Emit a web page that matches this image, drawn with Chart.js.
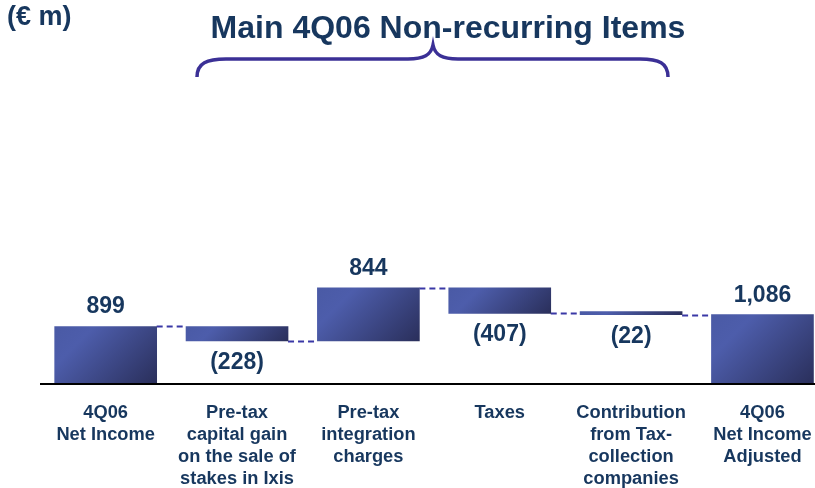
<!DOCTYPE html>
<html><head><meta charset="utf-8">
<script src="https://cdn.jsdelivr.net/npm/chart.js@4/dist/chart.umd.min.js"></script>
<style>html,body{margin:0;padding:0;background:#fff;overflow:hidden}#wrap{width:815px;height:488px;position:relative}</style>
</head><body><div id="wrap"><canvas id="c" width="815" height="488"></canvas></div>
<script>
// ---- data ----
const categories = [
  ["4Q06", "Net Income"],
  ["Pre-tax", "capital gain", "on the sale of", "stakes in Ixis"],
  ["Pre-tax", "integration", "charges"],
  ["Taxes"],
  ["Contribution", "from Tax-", "collection", "companies"],
  ["4Q06", "Net Income", "Adjusted"]
];
const values = [899, -228, 844, -407, -22, 1086];
const isTotal = [true, false, false, false, false, true];
const valueLabels = ["899", "(228)", "844", "(407)", "(22)", "1,086"];
const unitLabel = "(€ m)";
const titleText = "Main 4Q06 Non-recurring Items";

// floating bar ranges derived from the values (waterfall)
const floats = [];
let running = 0;
values.forEach((v, i) => {
  if (isTotal[i]) { floats.push([0, v]); running = v; }
  else { floats.push([running, running + v]); running += v; }
});

const TEXT = '#17375e';
const FONT = '"Liberation Sans", Arial, sans-serif';
const BAR_W = 102;

function barGradient(ctx) {
  const fallback = '#434f96';
  if (ctx.type !== 'data') return fallback;
  const chart = ctx.chart, xs = chart.scales.x, ys = chart.scales.y;
  if (!xs || !ys) return fallback;
  const i = ctx.dataIndex;
  const [a, b] = floats[i];
  const cx = xs.getPixelForValue(i);
  const t = ys.getPixelForValue(Math.max(a, b)), btm = ys.getPixelForValue(Math.min(a, b));
  if (![cx, t, btm].every(Number.isFinite)) return fallback;
  const l = cx - BAR_W / 2;
  const d = (BAR_W + (btm - t)) / 2;   // 45-degree gradient across the bar
  const g = chart.ctx.createLinearGradient(l, t, l + d, t + d);
  g.addColorStop(0, '#4a5aa5');
  g.addColorStop(0.25, '#4d5dab');
  g.addColorStop(1, '#2a2f5b');
  return g;
}

const decor = {
  id: 'decor',
  beforeDatasetsDraw(chart) {
    const c = chart.ctx, xs = chart.scales.x, ys = chart.scales.y;
    c.save();
    c.strokeStyle = '#3a38a6';
    c.lineWidth = 1.8;
    c.setLineDash([6, 4]);
    for (let i = 0; i < floats.length - 1; i++) {
      const level = floats[i][1];
      const y = Math.round(ys.getPixelForValue(level)) + 0.5;
      c.beginPath();
      c.moveTo(xs.getPixelForValue(i) + BAR_W / 2, y);
      c.lineTo(xs.getPixelForValue(i + 1) - BAR_W / 2, y);
      c.stroke();
    }
    c.restore();
  },
  afterDraw(chart) {
    const c = chart.ctx, xs = chart.scales.x, ys = chart.scales.y, area = chart.chartArea;
    c.save();
    // baseline
    const y0 = ys.getPixelForValue(0);
    c.strokeStyle = '#000';
    c.lineWidth = 2;
    c.beginPath(); c.moveTo(area.left, y0 + 1); c.lineTo(area.right, y0 + 1); c.stroke();

    // value labels
    c.fillStyle = TEXT;
    c.textAlign = 'center';
    c.textBaseline = 'alphabetic';
    c.font = 'bold 23px ' + FONT;
    floats.forEach(([a, b], i) => {
      const cx = xs.getPixelForValue(i);
      if (values[i] >= 0) {
        c.fillText(valueLabels[i], cx, ys.getPixelForValue(Math.max(a, b)) - 13);
      } else {
        c.fillText(valueLabels[i], cx, ys.getPixelForValue(Math.min(a, b)) + 28);
      }
    });

    // category labels
    c.font = 'bold 18.3px ' + FONT;
    categories.forEach((lines, i) => {
      const cx = xs.getPixelForValue(i);
      lines.forEach((ln, k) => c.fillText(ln, cx, 418 + k * 22));
    });

    // title and unit
    c.font = 'bold 32px ' + FONT;
    c.fillText(titleText, 448, 38);
    c.textAlign = 'left';
    c.font = 'bold 27px ' + FONT;
    c.fillText(unitLabel, 7, 25);

    // brace
    c.strokeStyle = '#3b3096';
    c.lineWidth = 3.5;
    c.beginPath();
    c.moveTo(197, 77);
    c.bezierCurveTo(197, 63, 207, 59, 226, 59);
    c.lineTo(408, 59);
    c.bezierCurveTo(424, 59, 431, 55, 433, 45);
    c.bezierCurveTo(435, 55, 442, 59, 458, 59);
    c.lineTo(640, 59);
    c.bezierCurveTo(659, 59, 668, 63, 668, 77);
    c.stroke();
    c.restore();
  }
};

new Chart(document.getElementById('c'), {
  type: 'bar',
  data: {
    datasets: [{
      data: floats.map((f, i) => ({ x: i, y: f })),
      backgroundColor: barGradient,
      borderWidth: 0,
      barThickness: BAR_W,
      minBarLength: 3
    }]
  },
  options: {
    responsive: false,
    animation: false,
    devicePixelRatio: 1,
    layout: { padding: { left: 40, right: 0, top: 100, bottom: 105 } },
    scales: {
      x: { type: 'linear', min: -0.5, max: 5.4, offset: false, display: false },
      y: { min: 0, max: 4500, display: false }
    },
    plugins: { legend: { display: false }, tooltip: { enabled: false } }
  },
  plugins: [decor]
});
</script>
</body></html>
